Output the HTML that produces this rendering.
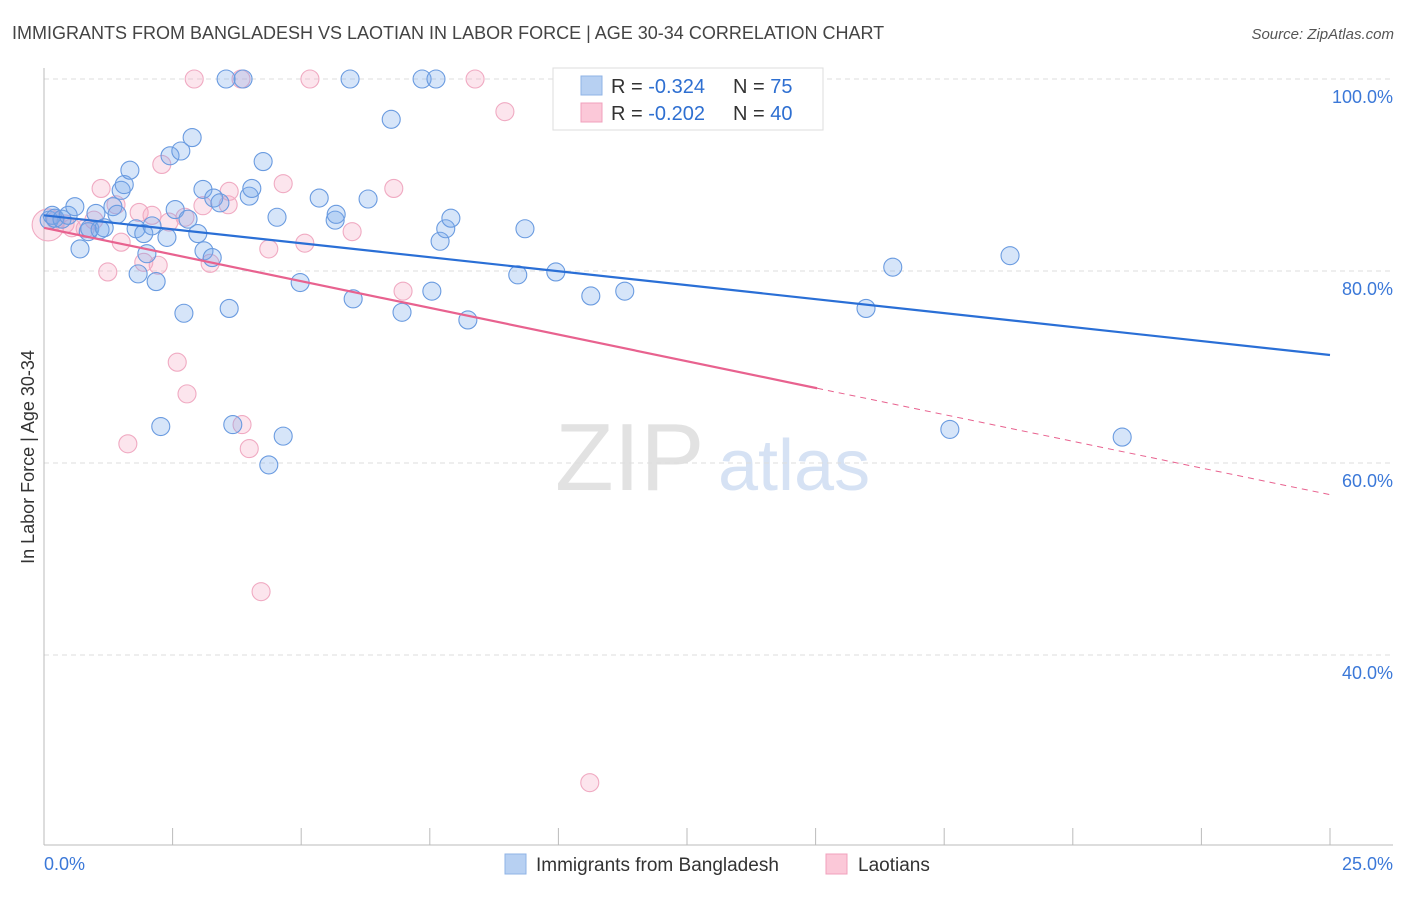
<!DOCTYPE html>
<html><head><meta charset="utf-8">
<style>
body{margin:0;background:#fff;font-family:"Liberation Sans",sans-serif;}
svg text{font-family:"Liberation Sans",sans-serif;}
</style></head>
<body>
<svg id="chart" width="1406" height="892" xmlns="http://www.w3.org/2000/svg">
<text x="12" y="39" font-size="18" fill="#444">IMMIGRANTS FROM BANGLADESH VS LAOTIAN IN LABOR FORCE | AGE 30-34 CORRELATION CHART</text>
<text x="1394" y="39" font-size="15" fill="#555" text-anchor="end" font-style="italic">Source: ZipAtlas.com</text>
<g>
<text x="555" y="490" font-size="96" fill="#e2e2e2" font-family="Liberation Serif,serif">ZIP</text>
<text x="718" y="490" font-size="72" fill="#d6e2f4">atlas</text>
</g>
<g id="grid"></g>
<g id="axes"></g>
<g id="pts"></g>
<g id="trends"></g>
<text transform="translate(34,457) rotate(-90)" font-size="18" fill="#333" text-anchor="middle">In Labor Force | Age 30-34</text>
<g>
<rect x="553" y="68" width="270" height="62" fill="#fff" stroke="#ddd"/>
<rect x="581" y="76" width="21" height="19" fill="#b7d0f2" stroke="#8fb3e6"/>
<rect x="581" y="103" width="21" height="19" fill="#fbc8d8" stroke="#f0a0bc"/>
<text x="611" y="93" font-size="20" fill="#333">R = <tspan fill="#2e6fd1">-0.324</tspan></text>
<text x="733" y="93" font-size="20" fill="#333">N = <tspan fill="#2e6fd1"> 75</tspan></text>
<text x="611" y="120" font-size="20" fill="#333">R = <tspan fill="#2e6fd1">-0.202</tspan></text>
<text x="733" y="120" font-size="20" fill="#333">N = <tspan fill="#2e6fd1">40</tspan></text>
</g>
<g>
<g><rect x="505" y="854" width="21" height="20" fill="#b7d0f2" stroke="#8fb3e6"/><text x="536" y="871" font-size="19" fill="#333">Immigrants from Bangladesh</text></g>
<g><rect x="826" y="854" width="21" height="20" fill="#fbc8d8" stroke="#f0a0bc"/><text x="858" y="871" font-size="19" fill="#333">Laotians</text></g>
</g>
</svg>
<script>
const blueX=[0.10,0.16,0.21,0.35,0.47,0.60,0.70,0.86,0.89,1.01,1.09,1.17,1.34,1.42,1.50,1.56,1.67,1.79,1.83,1.94,2.00,2.10,2.18,2.27,2.39,2.45,2.55,2.66,2.72,2.80,2.88,2.99,3.09,3.11,3.27,3.30,3.42,3.54,3.60,3.67,3.87,3.99,4.04,4.26,4.37,4.53,4.65,4.98,5.35,5.66,5.68,5.95,6.01,6.30,6.75,6.96,7.35,7.54,7.62,7.70,7.81,7.91,8.24,9.21,9.35,9.95,10.63,11.29,15.98,16.50,17.61,18.78,20.96];
const blueY=[85.3,85.8,85.5,85.4,85.8,86.7,82.3,84.1,84.4,86.0,84.3,84.5,86.7,85.9,88.4,89.0,90.5,84.4,79.7,83.9,81.8,84.7,78.9,63.8,83.5,92.0,86.4,92.5,75.6,85.4,93.9,83.9,88.5,82.1,81.4,87.6,87.1,100,76.1,64.0,100,87.8,88.6,91.4,59.8,85.6,62.8,78.8,87.6,85.3,85.9,100,77.1,87.5,95.8,75.7,100,77.9,100,83.1,84.4,85.5,74.9,79.6,84.4,79.9,77.4,77.9,76.1,80.4,63.5,81.6,62.7];
const pinkX=[0.08,0.23,0.41,0.54,0.80,0.97,1.11,1.24,1.40,1.50,1.63,1.85,1.94,2.10,2.22,2.29,2.43,2.59,2.74,2.78,2.92,3.09,3.23,3.58,3.60,3.83,3.85,3.99,4.22,4.37,4.65,5.07,5.17,5.99,6.80,6.98,8.38,8.96,10.61];
const pinkY=[84.8,85.3,84.9,84.5,84.4,85.3,88.6,79.9,86.9,83.0,62.0,86.1,80.9,85.8,80.6,91.1,85.1,70.5,85.6,67.2,100,86.8,80.8,86.9,88.3,100,64.0,61.5,46.6,82.3,89.1,82.9,100,84.1,88.6,77.9,100,96.6,26.7];
const blueTrend=[85.8,71.25];
const pinkTrend=[84.5,56.7];
const pinkSolidEnd=15.03;
const yTicks=[100,80,60,40];
const yTickLabels=["100.0%","80.0%","60.0%","40.0%"];

const NS="http://www.w3.org/2000/svg";
const X=v=>44+v*51.44;
const Y=v=>79+(100-v)*9.6;
function mk(tag,attrs,parent){const e=document.createElementNS(NS,tag);for(const k in attrs)e.setAttribute(k,attrs[k]);parent.appendChild(e);return e;}
const grid=document.getElementById('grid'),axes=document.getElementById('axes'),pts=document.getElementById('pts'),tr=document.getElementById('trends');
yTicks.forEach((t,i)=>{
  const l=mk('line',{x1:44,x2:1393,y1:Y(t),y2:Y(t),stroke:'#ddd','stroke-dasharray':'5,4'},grid);
  
  
  const tx=mk('text',{x:1393,y:Y(t)+24,'font-size':18,fill:'#3b78d8','text-anchor':'end'},axes);
  tx.textContent=yTickLabels[i];
  
  
});
mk('line',{x1:44,x2:44,y1:68,y2:845,stroke:'#bbb'},axes);
mk('line',{x1:44,x2:1393,y1:845,y2:845,stroke:'#bbb'},axes);
for(let i=1;i<=10;i++){const t=mk('line',{x1:X(i*2.5),x2:X(i*2.5),y1:828,y2:845,stroke:'#bbb'},axes);
  
  }
const x0=mk('text',{x:44,y:870,'font-size':18,fill:'#3b78d8'},axes);x0.textContent='0.0%';


const x1=mk('text',{x:1393,y:870,'font-size':18,fill:'#3b78d8','text-anchor':'end'},axes);x1.textContent='25.0%';



pinkX.forEach((v,i)=>{const c=mk('circle',{cx:X(v),cy:Y(pinkY[i]),r:i===0?16:9,fill:'rgba(245,170,195,0.3)',stroke:'#f0aac2','stroke-width':1.1},pts);
  
  });
blueX.forEach((v,i)=>{const c=mk('circle',{cx:X(v),cy:Y(blueY[i]),r:9,fill:'rgba(120,170,235,0.3)',stroke:'#6a9be0','stroke-width':1.1},pts);
  
  });

const bl=mk('line',{x1:X(0),y1:Y(blueTrend[0]),x2:X(25),y2:Y(blueTrend[1]),stroke:'#2a6fd6','stroke-width':2.2},tr);


const pm=pinkTrend[0]+(pinkTrend[1]-pinkTrend[0])*pinkSolidEnd/25;
const pl=mk('line',{x1:X(0),y1:Y(pinkTrend[0]),x2:X(pinkSolidEnd),y2:Y(pm),stroke:'#e8628f','stroke-width':2.2},tr);


const pd=mk('line',{x1:X(pinkSolidEnd),y1:Y(pm),x2:X(25),y2:Y(pinkTrend[1]),stroke:'#e8628f','stroke-width':1,'stroke-dasharray':'6,5'},tr);


</script>
</body></html>
